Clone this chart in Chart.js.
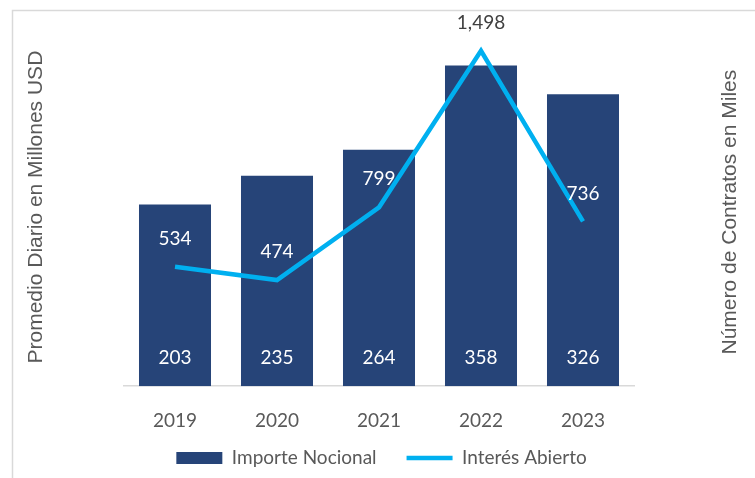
<!DOCTYPE html>
<html>
<head>
<meta charset="utf-8">
<script src="https://cdn.jsdelivr.net/npm/chart.js@4/dist/chart.umd.min.js"></script>
<style>
	html,body{margin:0;padding:0;background:#fff;}
	#wrap{width:755px;height:478px;}
</style>
</head>
<body>
<div id="wrap"><canvas id="ctx"></canvas></div>
<script>
	// DATA
	// --------------------
	var years = ['2019','2020','2021','2022','2023'];
	var importeNocional = [203,235,264,358,326];
	var interesAbierto = [534,474,799,1498,736];
	var leftAxisMax = 400;
	var rightAxisMax = 1600;

	var barColor = '#264478';
	var lineColor = '#00b0f0';
	var greyText = '#595959';
	var titleFont = {family:'Liberation Sans',size:21};

	// frame around the chart (cropped on the right and bottom)
	var framePlugin = {
		id:'frame',
		beforeDraw:function(chart){
			var c = chart.ctx;
			c.save();
			c.strokeStyle = '#d9d9d9';
			c.lineWidth = 1.5;
			c.beginPath();
			c.moveTo(12.5,chart.height);
			c.lineTo(12.5,10.5);
			c.lineTo(chart.width,10.5);
			c.stroke();
			c.restore();
		}
	};

	// keep the legend box short and lift it a little under the years
	var legendFitPlugin = {
		id:'legendFit',
		afterInit:function(chart){
			var legend = chart.legend;
			var fit = legend.fit;
			legend.fit = function(){
				fit.call(this);
				this.height = 50;
			};
		},
		afterLayout:function(chart){
			chart.legend.top -= 9.5;
			chart.legend.bottom -= 9.5;
			chart.legend.left += 4;
			chart.legend.right += 4;
		}
	};

	// value labels, placed from the library's own elements
	var labelPlugin = {
		id:'valueLabels',
		afterDatasetsDraw:function(chart){
			var c = chart.ctx;
			var bars = chart.getDatasetMeta(0).data;
			var points = chart.getDatasetMeta(1).data;
			c.save();
			c.font = '19px Lato';
			c.textAlign = 'center';
			c.textBaseline = 'middle';

			bars.forEach(function(bar,i){
				c.fillStyle = '#ffffff';
				c.fillText(importeNocional[i].toLocaleString('en-US'),bar.x,bar.base - 28);
			});

			points.forEach(function(pt,i){
				var y = pt.y - 28;
				c.fillStyle = (y < bars[i].y) ? '#404040' : '#ffffff';
				c.fillText(interesAbierto[i].toLocaleString('en-US'),pt.x,y);
			});
			c.restore();
		}
	};

	// right axis title reads bottom-to-top like the left one
	var rightTitlePlugin = {
		id:'rightTitle',
		afterDraw:function(chart){
			var scale = chart.scales.y1;
			var t = scale.options.title;
			var lh = titleFont.size * 1.2;
			var x = scale.right - t.padding.top - lh / 2;
			var y = (scale.top + scale.bottom) / 2 + 5;
			var c = chart.ctx;
			c.save();
			c.translate(x,y);
			c.rotate(-Math.PI / 2);
			c.font = titleFont.size + 'px "' + titleFont.family + '"';
			c.fillStyle = greyText;
			c.textAlign = 'center';
			c.textBaseline = 'middle';
			c.fillText(t.text,0,0);
			c.restore();
		}
	};

	var chart = new Chart(document.getElementById('ctx'),{
		type:'bar',
		data:{
			labels:years,
			datasets:[{
				type:'bar',
				label:'Importe Nocional',
				data:importeNocional,
				backgroundColor:barColor,
				borderWidth:0,
				yAxisID:'y',
				order:2,
				categoryPercentage:1,
				barPercentage:0.706,
				pointStyle:'rect'
			},{
				type:'line',
				label:'Interés Abierto',
				data:interesAbierto,
				borderColor:lineColor,
				backgroundColor:lineColor,
				borderWidth:4.5,
				borderJoinStyle:'miter',
				tension:0,
				pointRadius:0,
				fill:false,
				yAxisID:'y1',
				order:1,
				pointStyle:'line'
			}]
		},
		options:{
			responsive:true,
			maintainAspectRatio:false,
			animation:false,
			layout:{padding:{top:28,left:0,right:0,bottom:0}},
			plugins:{
				tooltip:{enabled:false},
				legend:{
					position:'bottom',
					labels:{
						usePointStyle:true,
						pointStyleWidth:46,
						boxHeight:12,
						padding:30,
						color:greyText,
						font:{family:'Lato',size:19},
						sort:function(a,b){ return a.datasetIndex - b.datasetIndex; }
					}
				}
			},
			scales:{
				x:{
					grid:{display:false,drawTicks:false},
					border:{display:true,color:'#d9d9d9',width:1.5},
					ticks:{color:greyText,font:{family:'Lato',size:19},padding:23},
					afterFit:function(scale){
						scale.height = scale.height - 27;
					}
				},
				y:{
					position:'left',
					min:0,
					max:leftAxisMax,
					grid:{display:false,drawTicks:false},
					border:{display:false},
					ticks:{display:false},
					title:{
						display:true,
						text:'Promedio Diario en Millones USD',
						color:greyText,
						font:titleFont,
						padding:{top:23.4,bottom:75.4}
					}
				},
				y1:{
					position:'right',
					min:0,
					max:rightAxisMax,
					grid:{display:false,drawTicks:false},
					border:{display:false},
					ticks:{display:false},
					title:{
						display:true,
						text:'Número de Contratos en Miles',
						color:'rgba(0,0,0,0)',
						font:titleFont,
						padding:{top:12.4,bottom:83.4}
					}
				}
			}
		},
		plugins:[framePlugin,legendFitPlugin,labelPlugin,rightTitlePlugin]
	});
</script>
</body>
</html>
